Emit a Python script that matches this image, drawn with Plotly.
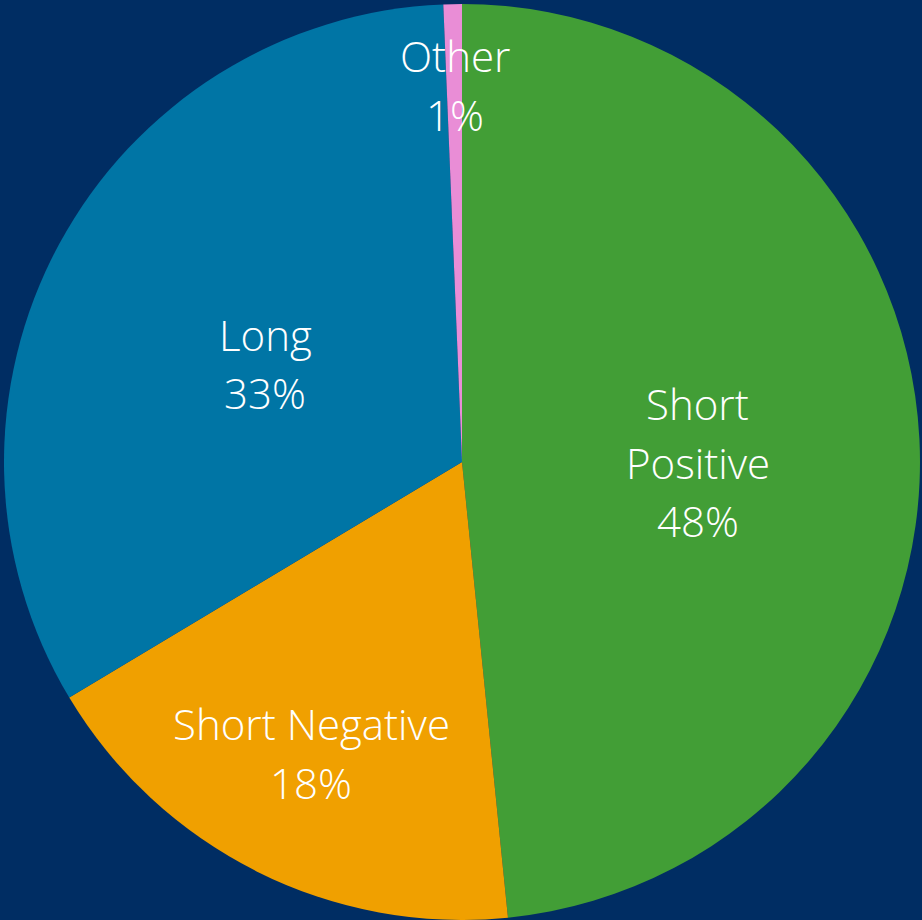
import math
import plotly.graph_objects as go

categories = ["Short Positive", "Short Negative", "Long", "Other"]
values = [48.4, 18.0, 32.95, 0.65]
label_lines = [["Short", "Positive"], ["Short Negative"], ["Long"], ["Other"]]

colors = ["#429E36", "#F0A000", "#0075A5", "#E98DD6"]
# label placement (style): radial fraction and angular nudge in degrees
label_radius = [0.515, 0.715, 0.48, 0.823]
label_nudge = [2.9, 0.75, -1.8, 0.1]

W, H = 922, 920
cx, cy, R = 462, 462, 458
LINE = 58.5
FONT = dict(family="Open Sans, sans-serif", size=42, color="white", weight=350)

fig = go.Figure(go.Pie(
    labels=categories,
    values=values,
    sort=False,
    direction="clockwise",
    rotation=0,
    marker=dict(colors=colors, line=dict(width=0)),
    textinfo="none",
    hoverinfo="label+percent",
    showlegend=False,
    domain=dict(x=[(cx - R) / W, (cx + R) / W], y=[1 - (cy + R) / H, 1 - (cy - R) / H]),
))

total = sum(values)
cum = 0.0
annotations = []
for lines, v, rf, nd in zip(label_lines, values, label_radius, label_nudge):
    mid = (cum + v / 2) / total * 360 + nd
    cum += v
    a = math.radians(mid)
    px = cx + rf * R * math.sin(a)
    py = cy - rf * R * math.cos(a)
    pct = round(v / total * 100)
    all_lines = lines + [f"{pct}%"]
    n = len(all_lines)
    for i, t in enumerate(all_lines):
        ly = py + (i - (n - 1) / 2) * LINE
        annotations.append(dict(
            x=px / W, y=1 - ly / H, xref="paper", yref="paper",
            text=t, showarrow=False, font=FONT,
            xanchor="center", yanchor="middle", align="center",
        ))

fig.update_layout(
    width=W, height=H,
    margin=dict(l=0, r=0, t=0, b=0),
    paper_bgcolor="#002D63",
    plot_bgcolor="#002D63",
    annotations=annotations,
)

fig.write_html(
    "out.html",
    config={"displayModeBar": False},
    post_script="document.body.style.margin='0';document.body.style.overflow='hidden';",
)
